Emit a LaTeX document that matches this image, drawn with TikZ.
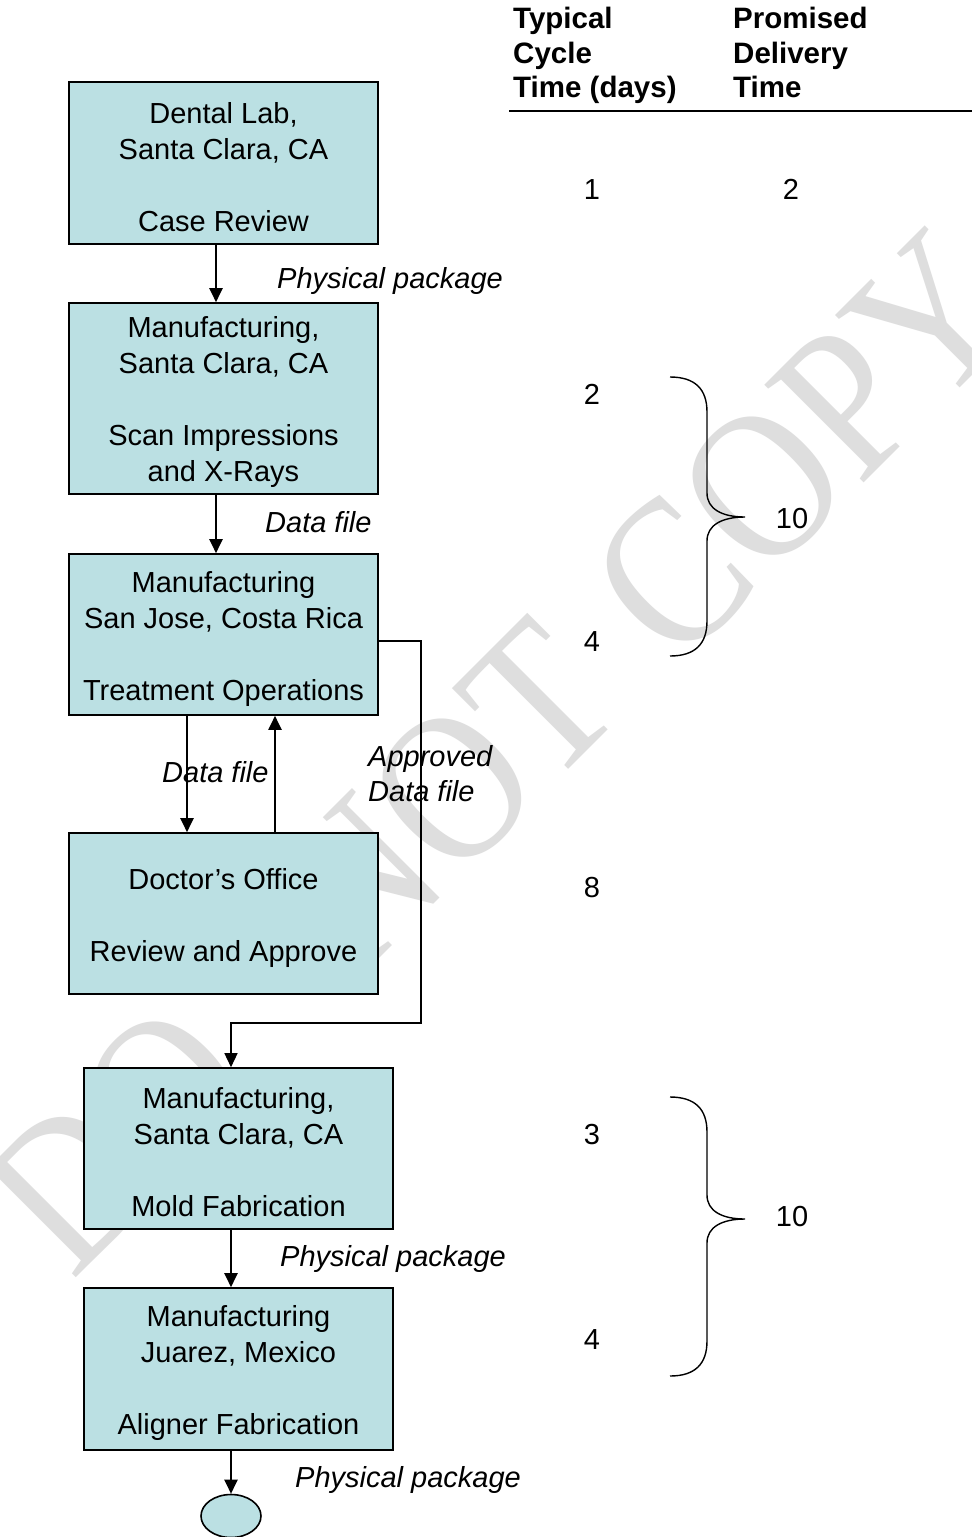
\documentclass[tikz,border=0pt]{standalone}
\usepackage{fontspec}
\setmainfont{Liberation Sans}
\newfontfamily\wmfont{Liberation Serif}
\usetikzlibrary{arrows.meta}
\usetikzlibrary{shapes.geometric}

\definecolor{stagefill}{RGB}{187,224,227}
\newcommand{\stagetop}{\rule{0pt}{29pt}}

\begin{document}
\begin{tikzpicture}[x=1pt, y=-1pt, >={Triangle[length=14pt,width=13pt]},
    stage/.style={draw, line width=1.6pt, fill=stagefill, minimum width=309pt,
        inner sep=0pt, align=center, font=\fontsize{29}{36}\selectfont},
    flow/.style={line width=2pt, ->},
    flowlabel/.style={inner sep=0pt, anchor=base west, font=\fontsize{29}{35}\selectfont\itshape},
    daynum/.style={inner sep=0pt, anchor=base, font=\fontsize{29}{36}\selectfont},
    colhead/.style={inner sep=0pt, anchor=north west, align=left,
        font=\fontsize{29.5}{34.5}\selectfont\bfseries},
    watermark/.style={inner sep=0pt, rotate=45, yscale=1.15, text=black!13,
        font=\wmfont\fontsize{185}{185}\selectfont}]

    % === Pagina ===
    \useasboundingbox (0,0) rectangle (972,1537);
    \fill[white] (0,0) rectangle (972,1537);

    % === Filigrana (dietro a tutto) ===
    \node[watermark] (wmdo)   at (118,1138) {DO};
    \node[watermark] (wmnot)  at (445,795)  {NOT};
    \node[watermark] (wmcopy) at (803,446)  {COPY};

    % === Intestazione delle colonne ===
    \node[colhead] (headcycle)   at (513,7) {Typical\\Cycle\\Time (days)};
    \node[colhead] (headpromise) at (733,7) {Promised\\Delivery\\Time};
    \coordinate (ruleL) at (509,111);
    \coordinate (ruleR) at (972,111);
    \draw[line width=1.8pt] (ruleL) -- (ruleR);

    % === Fasi del processo ===
    \node[stage, minimum height=162pt] (lab) at (223.5,163)
        {\stagetop Dental Lab,\\Santa Clara, CA\\[36pt]Case Review};
    \node[stage, minimum height=191pt] (scan) at (223.5,398.5)
        {\stagetop Manufacturing,\\Santa Clara, CA\\[36pt]Scan Impressions\\and X-Rays};
    \node[stage, minimum height=161pt] (treat) at (223.5,634.5)
        {\stagetop Manufacturing\\San Jose, Costa Rica\\[36pt]Treatment Operations};
    \node[stage, minimum height=161pt] (doctor) at (223.5,913.5)
        {\stagetop Doctor’s Office\\[36pt]Review and Approve};
    \node[stage, minimum height=161pt] (mold) at (238.5,1148.5)
        {\stagetop Manufacturing,\\Santa Clara, CA\\[36pt]Mold Fabrication};
    \node[stage, minimum height=162pt] (aligner) at (238.5,1369)
        {\stagetop Manufacturing\\Juarez, Mexico\\[36pt]Aligner Fabrication};
    \node[ellipse, draw, line width=1.6pt, fill=stagefill, minimum width=60pt,
        minimum height=43pt, inner sep=0pt] (shipped) at (231,1516) {};

    % === Collegamenti ===
    \draw[flow] ([xshift=-7.5pt]lab.south) -- ([xshift=-7.5pt]scan.north);
    \draw[flow] ([xshift=-7.5pt]scan.south) -- ([xshift=-7.5pt]treat.north);
    \draw[flow] ([xshift=-36.5pt]treat.south) -- ([xshift=-36.5pt]doctor.north);
    \draw[flow] ([xshift=51.5pt]doctor.north) -- ([xshift=51.5pt]treat.south);
    \coordinate (approvedbend) at (421,1023);
    \draw[line width=1.4pt, ->] ([yshift=-6.5pt]treat.east) -| (approvedbend)
        -| ([xshift=-7.5pt]mold.north);
    \draw[flow] ([xshift=-7.5pt]mold.south) -- ([xshift=-7.5pt]aligner.north);
    \draw[flow] ([xshift=-7.5pt]aligner.south) -- (shipped.north);

    % === Etichette dei collegamenti ===
    \node[flowlabel] (lblpack1) at (277,288)  {Physical package};
    \node[flowlabel] (lbldata1) at (265,532)  {Data file};
    \node[flowlabel] (lbldata2) at (162,782)  {Data file};
    \node[flowlabel] (lblappr)  at (368,766)  {Approved};
    \node[flowlabel] (lblappr2) at (368,801)  {Data file};
    \node[flowlabel] (lblpack2) at (280,1266) {Physical package};
    \node[flowlabel] (lblpack3) at (295,1487) {Physical package};

    % === Tempi ===
    \node[daynum] (cyclab)     at (592,199)  {1};
    \node[daynum] (promlab)    at (791,199)  {2};
    \node[daynum] (cycscan)    at (592,404)  {2};
    \node[daynum] (cyctreat)   at (592,651)  {4};
    \node[daynum] (promupper)  at (792,528)  {10};
    \node[daynum] (cycdoctor)  at (592,897)  {8};
    \node[daynum] (cycmold)    at (592,1144) {3};
    \node[daynum] (cycaligner) at (592,1349) {4};
    \node[daynum] (promlower)  at (792,1226) {10};

    % === Parentesi graffe ===
    \foreach \ytop/\ymid/\ybot in {377/517/656, 1097/1219/1376} {
        \draw[line width=1.4pt] (670,\ytop) .. controls (695,\ytop) and (707,\ytop+12) .. (707,\ytop+35)
            -- (707,\ymid-24) .. controls (707,\ymid-8) and (722,\ymid) .. (745,\ymid)
            .. controls (722,\ymid) and (707,\ymid+8) .. (707,\ymid+24)
            -- (707,\ybot-35) .. controls (707,\ybot-12) and (695,\ybot) .. (670,\ybot);
    }

\end{tikzpicture}
\end{document}
